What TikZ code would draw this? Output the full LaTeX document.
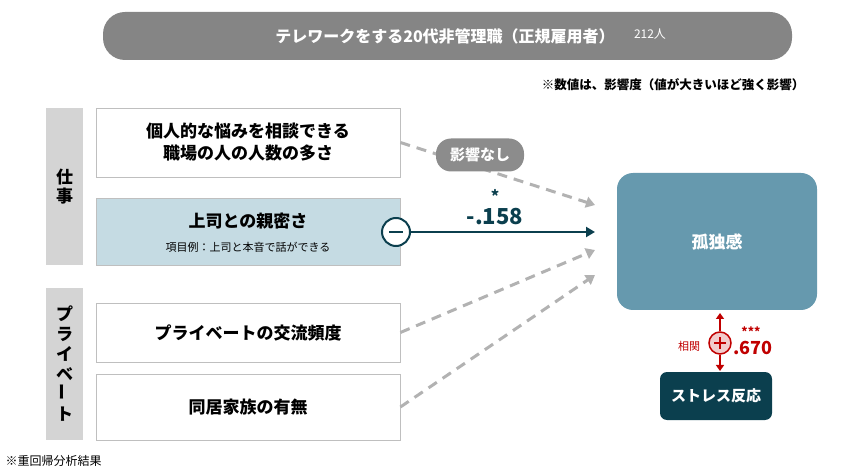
\documentclass[tikz,border=0pt]{standalone}
\usepackage{fontspec}
\setmainfont{Noto Sans CJK JP}
\usetikzlibrary{arrows.meta}
\definecolor{dk}{HTML}{0B3F4E}
\definecolor{teal}{HTML}{6699AE}
\definecolor{lb}{HTML}{C5DBE3}
\definecolor{rd}{HTML}{C00000}
\tikzset{
  box/.style={draw=black!25,line width=0.8pt,minimum width=304pt,align=center,font=\fontsize{17}{22}\selectfont\bfseries},
  side/.style={fill=black!17,minimum width=37pt,font=\fontsize{17}{20}\selectfont\bfseries},
  dsh/.style={black!30,line width=3pt,dash pattern=on 10pt off 7pt,-{Triangle[length=9pt,width=11pt]}},
}
\begin{document}
\begin{tikzpicture}[x=1pt,y=-1pt]
\useasboundingbox (0,0) rectangle (865,470);
\node[fill=black!48,rounded corners=22pt,minimum width=689pt,minimum height=48pt] (top) at (447.5,36) {};
\node[text=white,font=\fontsize{16}{18}\selectfont\bfseries] (tt) at (445,36) {テレワークをする20代非管理職（正規雇用者）};
\node[text=white,font=\fontsize{12}{14}\selectfont] (tn) at (650,34) {212人};
\node[anchor=east,font=\fontsize{12.5}{14}\selectfont\bfseries] (note) at (808,85) {※数値は、影響度（値が大きいほど強く影響）};
\node[side,minimum height=157pt] (s1) at (64.5,186.5) {\shortstack{仕\\事}};
\node[side,minimum height=152pt,align=center] (s2) at (64.5,364) {プ\\ラ\\イ\\ベ\\\rotatebox{90}{ー}\\ト};
\node[box,minimum height=69pt] (b1) at (248,142.5) {個人的な悩みを相談できる\\職場の人の人数の多さ};
\node[box,fill=lb,minimum height=67pt] (b2) at (248,231.5) {};
\node[font=\fontsize{17}{20}\selectfont\bfseries] (b2a) at (248,221) {上司との親密さ};
\node[font=\fontsize{11}{13}\selectfont] (b2b) at (248,247) {項目例：上司と本音で話ができる};
\node[box,minimum height=59pt] (b3) at (248,332.5) {プライベートの交流頻度};
\node[box,minimum height=66pt] (b4) at (248,407) {同居家族の有無};
\node[fill=teal,rounded corners=16pt,minimum width=200pt,minimum height=137pt,text=white,font=\fontsize{17}{20}\selectfont\bfseries] (ko) at (717,241.5) {孤独感};
\node[fill=dk,rounded corners=7pt,minimum width=112pt,minimum height=48pt,text=white,font=\fontsize{15}{18}\selectfont\bfseries] (st) at (716,396) {ストレス反応};
\coordinate (e1) at (595,205);
\coordinate (e3) at (595,250);
\coordinate (e4) at (595,275);
\draw[dsh] (b1.east) -- (e1);
\draw[dsh] (b3.east) -- (e3);
\draw[dsh] (b4.east) -- (e4);
\node[fill=black!45,rounded corners=15pt,minimum width=88pt,minimum height=33pt,text=white,font=\fontsize{15}{17}\selectfont\bfseries] (nk) at (480,155) {影響なし};
\node[circle,draw=dk,line width=2pt,fill=white,minimum size=28pt,inner sep=0] (mn) at (396,232) {};
\draw[dk,line width=2pt] ([xshift=-7pt]mn.center) -- ([xshift=7pt]mn.center);
\coordinate (e2) at (595,232);
\draw[dk,line width=2.5pt,-{Triangle[length=9pt,width=10pt]}] (mn.east) -- (e2);
\node[text=dk,font=\fontsize{22}{24}\selectfont\bfseries,inner sep=1pt] (v1) at (495,217) {-.158};
\node[text=dk,font=\fontsize{16}{16}\selectfont\bfseries,inner sep=1pt] (v1s) at (495,196) {*};
\node[circle,draw=rd,line width=1.5pt,fill=rd!20,minimum size=22pt,inner sep=0] (pl) at (720,343) {};
\draw[rd,line width=1.5pt] ([xshift=-6pt]pl.center) -- ([xshift=6pt]pl.center) ([yshift=-6pt]pl.center) -- ([yshift=6pt]pl.center);
\coordinate (u) at (720,313);
\coordinate (d) at (720,371);
\draw[rd,line width=1.5pt,-{Triangle[length=6pt,width=8pt]}] (pl.north) -- (u);
\draw[rd,line width=1.5pt,-{Triangle[length=6pt,width=8pt]}] (pl.south) -- (d);
\node[text=rd,font=\fontsize{11}{12}\selectfont] (sk) at (689,346) {相関};
\node[text=rd,font=\fontsize{18}{20}\selectfont\bfseries,inner sep=1pt] (v2) at (753,348) {.670};
\node[text=rd,font=\fontsize{12}{12}\selectfont\bfseries,inner sep=1pt] (v2s) at (751,332) {***};
\node[anchor=west,font=\fontsize{12}{14}\selectfont] (ft) at (2,461) {※重回帰分析結果};
\end{tikzpicture}
\end{document}
